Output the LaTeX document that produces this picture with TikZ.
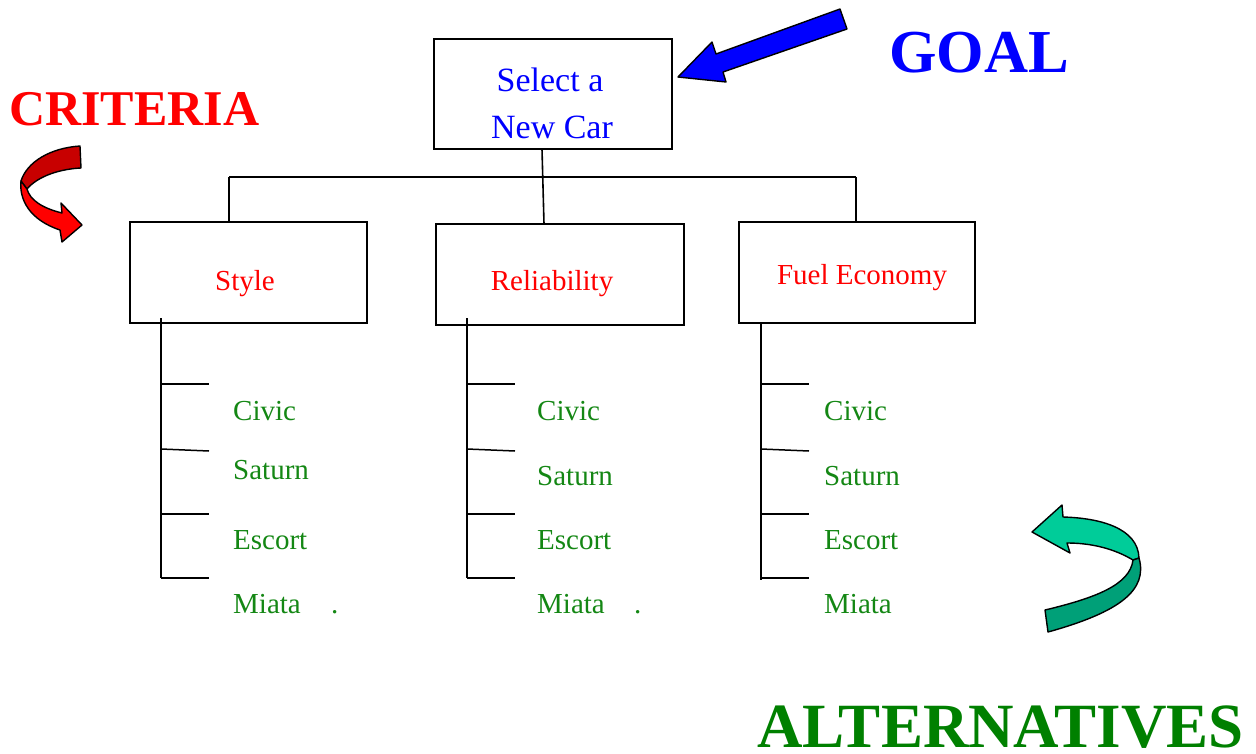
\documentclass[tikz,border=0pt]{standalone}
\usepackage{fontspec}
\setmainfont{Liberation Serif}
\definecolor{goalblue}{RGB}{0,0,255}
\definecolor{critred}{RGB}{255,0,0}
\definecolor{darkred}{RGB}{200,0,0}
\definecolor{altgreen}{RGB}{20,135,20}
\definecolor{biggreen}{RGB}{0,128,0}
\definecolor{lightteal}{RGB}{0,204,153}
\definecolor{darkteal}{RGB}{0,160,120}
\begin{document}
\begin{tikzpicture}[x=1pt,y=-1pt,
  box/.style={draw=black,line width=1.6pt,inner sep=0pt},
  wire/.style={draw=black,line width=1.6pt},
  crit/.style={text=critred,font=\fontsize{29}{34}\selectfont,anchor=base,inner sep=0pt},
  alt/.style={text=altgreen,font=\fontsize{29}{34}\selectfont,anchor=base west,inner sep=0pt},
  shapeline/.style={draw=black,line width=1.4pt,line join=round}]
\useasboundingbox (0,0) rectangle (1256,753);
% boxes
\node[box,minimum width=238pt,minimum height=110pt] (goal) at (553,94) {};
\node[box,minimum width=237pt,minimum height=101pt] (style) at (248.5,272.5) {};
\node[box,minimum width=248pt,minimum height=101pt] (rel) at (560,274.5) {};
\node[box,minimum width=236pt,minimum height=101pt] (fuel) at (857,272.5) {};
% texts in boxes
\node[text=goalblue,font=\fontsize{34}{40}\selectfont,anchor=base,inner sep=0pt] (goalA) at (550,91) {Select a};
\node[text=goalblue,font=\fontsize{34}{40}\selectfont,anchor=base,inner sep=0pt] (goalB) at (552,138) {New Car};
\node[crit] (styleT) at (245,290) {Style};
\node[crit] (relT) at (552,290) {Reliability};
\node[crit] (fuelT) at (862,284) {Fuel Economy};
% bus
\coordinate (busL) at (229,177);
\coordinate (busR) at (856,177);
\coordinate (gdown) at (542,149);
\coordinate (rup) at (544,224);
\draw[wire] (busL) -- (busR);
\draw[wire] (busL) -- (busL |- style.north);
\draw[wire] (busR) -- (busR |- fuel.north);
\draw[wire] (gdown) -- (rup);
% alternative trees
\foreach \col/\x/\ytop/\ybot in {A/161/318/578, B/467/318/578, C/761/323/580}{
  \coordinate (\col top) at (\x,\ytop);
  \coordinate (\col bot) at (\x,\ybot);
  \draw[wire,line width=1.5pt] (\col top) -- (\col bot);
  \draw[wire,line width=1.5pt] (\x,384) -- ++(48,0);
  \draw[wire,line width=1.5pt] (\x,449) -- ++(48,2);
  \draw[wire,line width=1.5pt] (\x,514) -- ++(48,0);
  \draw[wire,line width=1.5pt] (\x,578) -- ++(48,0);
}
\node[alt] (a1) at (233,420) {Civic};
\node[alt] (a2) at (233,479) {Saturn};
\node[alt] (a3) at (233,549) {Escort};
\node[alt] (a4) at (233,613) {Miata};
\node[alt] (adot) at (331,613) {.};
\node[alt] (b1) at (537,420) {Civic};
\node[alt] (b2) at (537,485) {Saturn};
\node[alt] (b3) at (537,549) {Escort};
\node[alt] (b4) at (537,613) {Miata};
\node[alt] (bdot) at (634,613) {.};
\node[alt] (c1) at (824,420) {Civic};
\node[alt] (c2) at (824,485) {Saturn};
\node[alt] (c3) at (824,549) {Escort};
\node[alt] (c4) at (824,613) {Miata};
% big labels
\node[text=goalblue,font=\bfseries\fontsize{61}{70}\selectfont,anchor=base west,inner sep=0pt] (goalL) at (889,72) {GOAL};
\node[text=critred,font=\bfseries\fontsize{50}{60}\selectfont,anchor=base west,inner sep=0pt] (critL) at (9,125) {CRITERIA};
\node[text=biggreen,font=\bfseries\fontsize{63}{72}\selectfont,anchor=base west,inner sep=0pt] (altL) at (757,747) {ALTERNATIVES};
% blue arrow
\filldraw[fill=goalblue,shapeline] (678,77) -- (712,42) -- (716,54) -- (840,9) -- (847,29) -- (723,72) -- (726,82) -- cycle;
% red curved arrow
\filldraw[fill=darkred,shapeline] (80,146) -- (81,168)
  .. controls (60,169) and (38,176) .. (27,189)
  -- (21,181)
  .. controls (27,162) and (50,148) .. (80,146) -- cycle;
\filldraw[fill=critred,shapeline] (21,181)
  .. controls (19,200) and (30,220) .. (60,230)
  -- (62,242) -- (82,225) -- (61,203) -- (62,213)
  .. controls (42,208) and (30,200) .. (27,189) -- cycle;
% green curved arrow
\filldraw[fill=lightteal,shapeline] (1032,532) -- (1062,505) -- (1063,517)
  .. controls (1100,518) and (1138,528) .. (1139,558)
  -- (1133,560)
  .. controls (1113,548) and (1090,543) .. (1067,543)
  -- (1070,553) -- cycle;
\filldraw[fill=darkteal,shapeline] (1139,558)
  .. controls (1148,590) and (1120,612) .. (1048,632)
  -- (1045,610)
  .. controls (1095,598) and (1130,585) .. (1133,560) -- cycle;
\end{tikzpicture}
\end{document}
